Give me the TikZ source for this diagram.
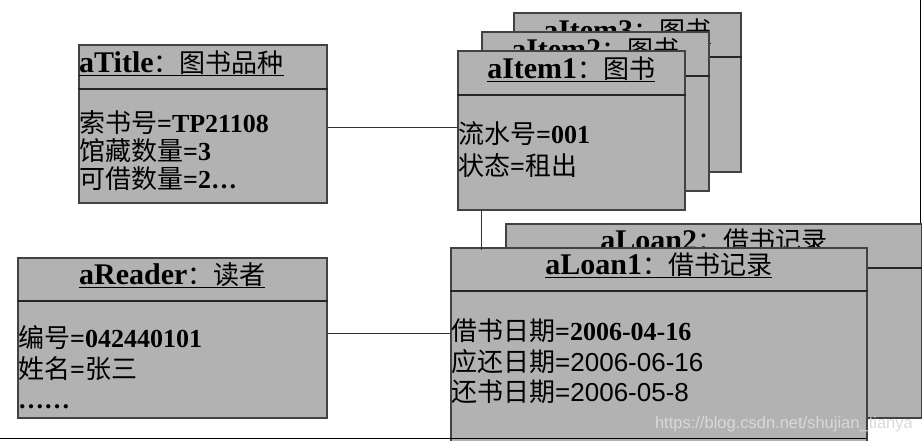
\documentclass[tikz,border=0pt]{standalone}
\usepackage{fontspec}
\setmainfont{Liberation Serif}
\newfontfamily\cjk{Noto Sans CJK SC}
\newfontfamily\arial{Liberation Sans}
\newcommand{\zh}[1]{{\cjk\mdseries #1}}
\newcommand{\zhhead}[1]{{\cjk\mdseries\fontsize{26}{30}\selectfont #1}}
\definecolor{objfill}{RGB}{178,178,178}
\definecolor{objline}{RGB}{66,66,66}

\begin{document}
\begin{tikzpicture}[x=1pt, y=-1pt,
  obj/.style={draw=objline, line width=1.5pt, fill=objfill, anchor=north west, inner sep=0pt},
  itembox/.style={obj, minimum width=227pt, minimum height=159pt},
  loanbox/.style={obj, minimum width=416pt, minimum height=194pt},
  sep/.style={line width=1.2pt, black!85},
  head/.style={font=\fontsize{30}{34}\selectfont\bfseries, inner sep=0pt, anchor=base},
  attr/.style={font=\fontsize{26}{30}\selectfont\bfseries, inner sep=0pt, anchor=base west},
  link/.style={line width=1pt, black!80}]
  \useasboundingbox (0,0) rectangle (922,440);
  \clip (0,0) rectangle (922,440);

  \draw[line width=1.5pt] (920.5,0) -- (920.5,223);

  % aTitle
  \node[obj, minimum width=248pt, minimum height=158pt] (title) at (78,44) {};
  \draw[sep] ([yshift=-45pt]title.north west) -- ([yshift=-45pt]title.north east);
  \node[head, anchor=base west] (titlehead) at (79,72) {\underline{aTitle\zhhead{：图书品种}}};
  \node[attr] (title1) at (79,132) {\zh{索书号}=TP21108};
  \node[attr] (title2) at (79,160) {\zh{馆藏数量}=3};
  \node[attr] (title3) at (79,188) {\zh{可借数量}=2…};

  % aItem3, aItem2, aItem1
  \node[itembox] (item3) at (513,12) {};
  \draw[sep] ([yshift=-45pt]item3.north west) -- ([yshift=-45pt]item3.north east);
  \node[head] (item3head) at ([yshift=-28pt]item3.north) {\underline{aItem3\zhhead{：图书}}};

  \node[itembox] (item2) at (481,31) {};
  \draw[sep] ([yshift=-45pt]item2.north west) -- ([yshift=-45pt]item2.north east);
  \node[head] (item2head) at ([yshift=-28pt]item2.north) {\underline{aItem2\zhhead{：图书}}};

  \node[itembox] (item1) at (457,50) {};
  \draw[sep] ([yshift=-45pt]item1.north west) -- ([yshift=-45pt]item1.north east);
  \node[head] (item1head) at ([yshift=-28pt]item1.north) {\underline{aItem1\zhhead{：图书}}};
  \node[attr] (item1a) at (458,143) {\zh{流水号}=001};
  \node[attr] (item1b) at (458,175) {\zh{状态}=\zh{租出}};

  % aReader
  \node[obj, minimum width=309pt, minimum height=160pt] (reader) at (17,257) {};
  \draw[sep] ([yshift=-44pt]reader.north west) -- ([yshift=-44pt]reader.north east);
  \node[head] (readerhead) at ([yshift=-27pt]reader.north) {\underline{aReader\zhhead{：读者}}};
  \node[attr] (reader1) at (18,347) {\zh{编号}=042440101};
  \node[attr] (reader2) at (18,378) {\zh{姓名}=\zh{张三}};
  \node[attr] (reader3) at (18,408) {……};

  % aLoan2, aLoan1
  \node[loanbox] (loan2) at (505,223) {};
  \draw[sep] ([yshift=-45pt]loan2.north west) -- ([yshift=-45pt]loan2.north east);
  \node[head] (loan2head) at ([yshift=-27pt]loan2.north) {\underline{aLoan2\zhhead{：借书记录}}};

  \node[loanbox] (loan1) at (450,247) {};
  \draw[sep] ([yshift=-44pt]loan1.north west) -- ([yshift=-44pt]loan1.north east);
  \node[head] (loan1head) at ([yshift=-27pt]loan1.north) {\underline{aLoan1\zhhead{：借书记录}}};
  \node[attr] (loan1a) at (451,340) {\zh{借书日期}=2006-04-16};
  \node[attr] (loan1b) at (451,371) {\zh{应还日期}{\arial\mdseries =2006-06-16}};
  \node[attr] (loan1c) at (451,401) {\zh{还书日期}{\arial\mdseries =2006-05-8}};

  \draw[link] ([yshift=-4pt]title.east) -- ([yshift=-4pt]title.east -| item1.west);
  \draw[link] ([yshift=4pt]reader.east) -- ([yshift=4pt]reader.east -| loan1.west);
  \draw[link] ([xshift=24pt]item1.south west) -- ([xshift=24pt,yshift=-3pt]item1.south west |- loan1.north);

  \node[font=\arial\fontsize{16.5}{20}\selectfont, text=white!85!black, anchor=base east, inner sep=0pt] (mark) at (913,428) {https://blog.csdn.net/shujian\_tianya};

  \draw[line width=1.5pt] (0,438.5) -- (866,438.5);
\end{tikzpicture}
\end{document}
